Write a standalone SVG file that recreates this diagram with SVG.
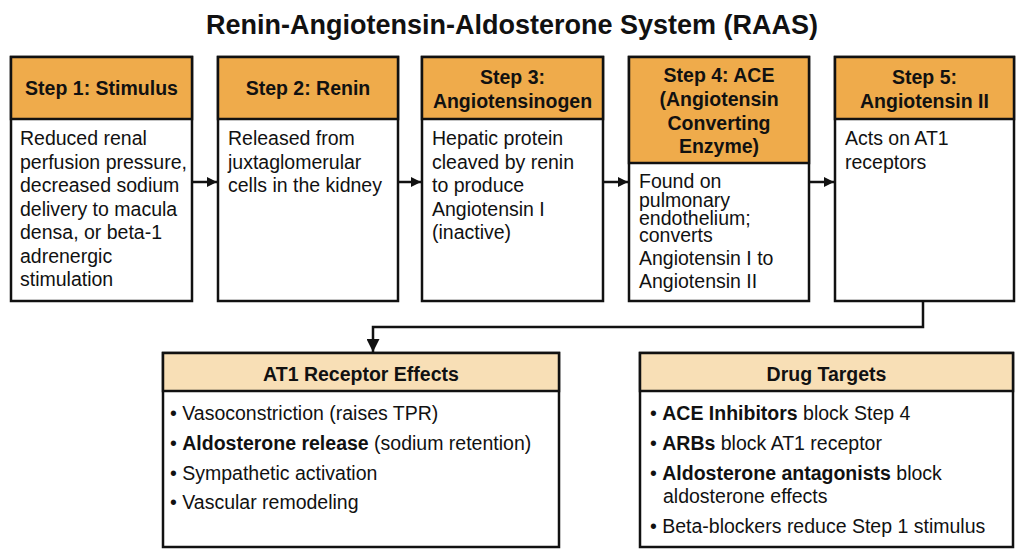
<svg xmlns="http://www.w3.org/2000/svg" width="1024" height="559" viewBox="0 0 1024 559">
<defs>
<marker id="ah" viewBox="0 0 10 10" refX="10" refY="5" markerWidth="10" markerHeight="10" markerUnits="userSpaceOnUse" orient="auto">
<path d="M0,0 L10,5 L0,10 z" fill="#111"/>
</marker>
<marker id="ahd" viewBox="0 0 10 10" refX="10" refY="5" markerWidth="13" markerHeight="13" markerUnits="userSpaceOnUse" orient="auto">
<path d="M0,0 L10,5 L0,10 z" fill="#111"/>
</marker>
</defs>
<style>
text{font-family:"Liberation Sans",Arial,sans-serif;fill:#111}
.title{font-size:27px;font-weight:bold}
.hd{font-size:19.5px;font-weight:bold;text-anchor:middle}
.bd{font-size:19.5px}
.box{fill:#fff;stroke:#111;stroke-width:2.5}
.hfill{fill:#EFAB4B;stroke:#111;stroke-width:2.5}
.lfill{fill:#F8DFB6;stroke:#111;stroke-width:2.5}
.conn{fill:none;stroke:#111;stroke-width:2.5}
b,.b{font-weight:bold}
</style>
<rect width="1024" height="559" fill="#fff"/>
<text class="title" x="512" y="34" text-anchor="middle">Renin-Angiotensin-Aldosterone System (RAAS)</text>

<g id="step1">
<rect class="box" x="11" y="57" width="181" height="244"/>
<rect class="hfill" x="11" y="57" width="181" height="62"/>
<text class="hd" x="101.5" y="95">Step 1: Stimulus</text>
<text class="bd" x="20" y="145">Reduced renal</text>
<text class="bd" x="20" y="168.5">perfusion pressure,</text>
<text class="bd" x="20" y="192">decreased sodium</text>
<text class="bd" x="20" y="215.5">delivery to macula</text>
<text class="bd" x="20" y="239">densa, or beta-1</text>
<text class="bd" x="20" y="262.5">adrenergic</text>
<text class="bd" x="20" y="286">stimulation</text>
</g>

<g id="step2">
<rect class="box" x="218" y="57" width="180" height="244"/>
<rect class="hfill" x="218" y="57" width="180" height="62"/>
<text class="hd" x="308" y="95">Step 2: Renin</text>
<text class="bd" x="228" y="145">Released from</text>
<text class="bd" x="228" y="168.5">juxtaglomerular</text>
<text class="bd" x="228" y="192">cells in the kidney</text>
</g>

<g id="step3">
<rect class="box" x="422" y="57" width="181" height="244"/>
<rect class="hfill" x="422" y="57" width="181" height="62"/>
<text class="hd" x="512.5" y="84">Step 3:</text>
<text class="hd" x="512.5" y="108">Angiotensinogen</text>
<text class="bd" x="432" y="145">Hepatic protein</text>
<text class="bd" x="432" y="168.5">cleaved by renin</text>
<text class="bd" x="432" y="192">to produce</text>
<text class="bd" x="432" y="215.5">Angiotensin I</text>
<text class="bd" x="432" y="239">(inactive)</text>
</g>

<g id="step4">
<rect class="box" x="629" y="57" width="180" height="244"/>
<rect class="hfill" x="629" y="57" width="180" height="106"/>
<text class="hd" x="719" y="82">Step 4: ACE</text>
<text class="hd" x="719" y="105.5">(Angiotensin</text>
<text class="hd" x="719" y="129.5">Converting</text>
<text class="hd" x="719" y="153">Enzyme)</text>
<text class="bd" x="639" y="188">Found on</text>
<text class="bd" x="639" y="207">pulmonary</text>
<text class="bd" x="639" y="225">endothelium;</text>
<text class="bd" x="639" y="242">converts</text>
<text class="bd" x="639" y="265">Angiotensin I to</text>
<text class="bd" x="639" y="288">Angiotensin II</text>
</g>

<g id="step5">
<rect class="box" x="835" y="57" width="179" height="244"/>
<rect class="hfill" x="835" y="57" width="179" height="62"/>
<text class="hd" x="924.5" y="84">Step 5:</text>
<text class="hd" x="924.5" y="108">Angiotensin II</text>
<text class="bd" x="845" y="145">Acts on AT1</text>
<text class="bd" x="845" y="168.5">receptors</text>
</g>

<g id="at1">
<rect class="box" x="163" y="353" width="396" height="194"/>
<rect class="lfill" x="163" y="353" width="396" height="38"/>
<text class="hd" x="361" y="381">AT1 Receptor Effects</text>
<text class="bd" x="170" y="420">• Vasoconstriction (raises TPR)</text>
<text class="bd" x="170" y="450">• <tspan class="b">Aldosterone release</tspan> (sodium retention)</text>
<text class="bd" x="170" y="480">• Sympathetic activation</text>
<text class="bd" x="170" y="509">• Vascular remodeling</text>
</g>

<g id="drugs">
<rect class="box" x="640" y="353" width="373" height="194"/>
<rect class="lfill" x="640" y="353" width="373" height="38"/>
<text class="hd" x="826.5" y="381">Drug Targets</text>
<text class="bd" x="650" y="420">• <tspan class="b">ACE Inhibitors</tspan> block Step 4</text>
<text class="bd" x="650" y="450">• <tspan class="b">ARBs</tspan> block AT1 receptor</text>
<text class="bd" x="650" y="480">• <tspan class="b">Aldosterone antagonists</tspan> block</text>
<text class="bd" x="663" y="503">aldosterone effects</text>
<text class="bd" x="650" y="533">• Beta-blockers reduce Step 1 stimulus</text>
</g>

<g id="connectors">
<path class="conn" d="M192,182 H217" marker-end="url(#ah)"/>
<path class="conn" d="M398,182 H421" marker-end="url(#ah)"/>
<path class="conn" d="M603,182 H628" marker-end="url(#ah)"/>
<path class="conn" d="M809,182 H834" marker-end="url(#ah)"/>
<path class="conn" d="M923,301 V327 H373 V352" marker-end="url(#ahd)"/>
</g>
</svg>
